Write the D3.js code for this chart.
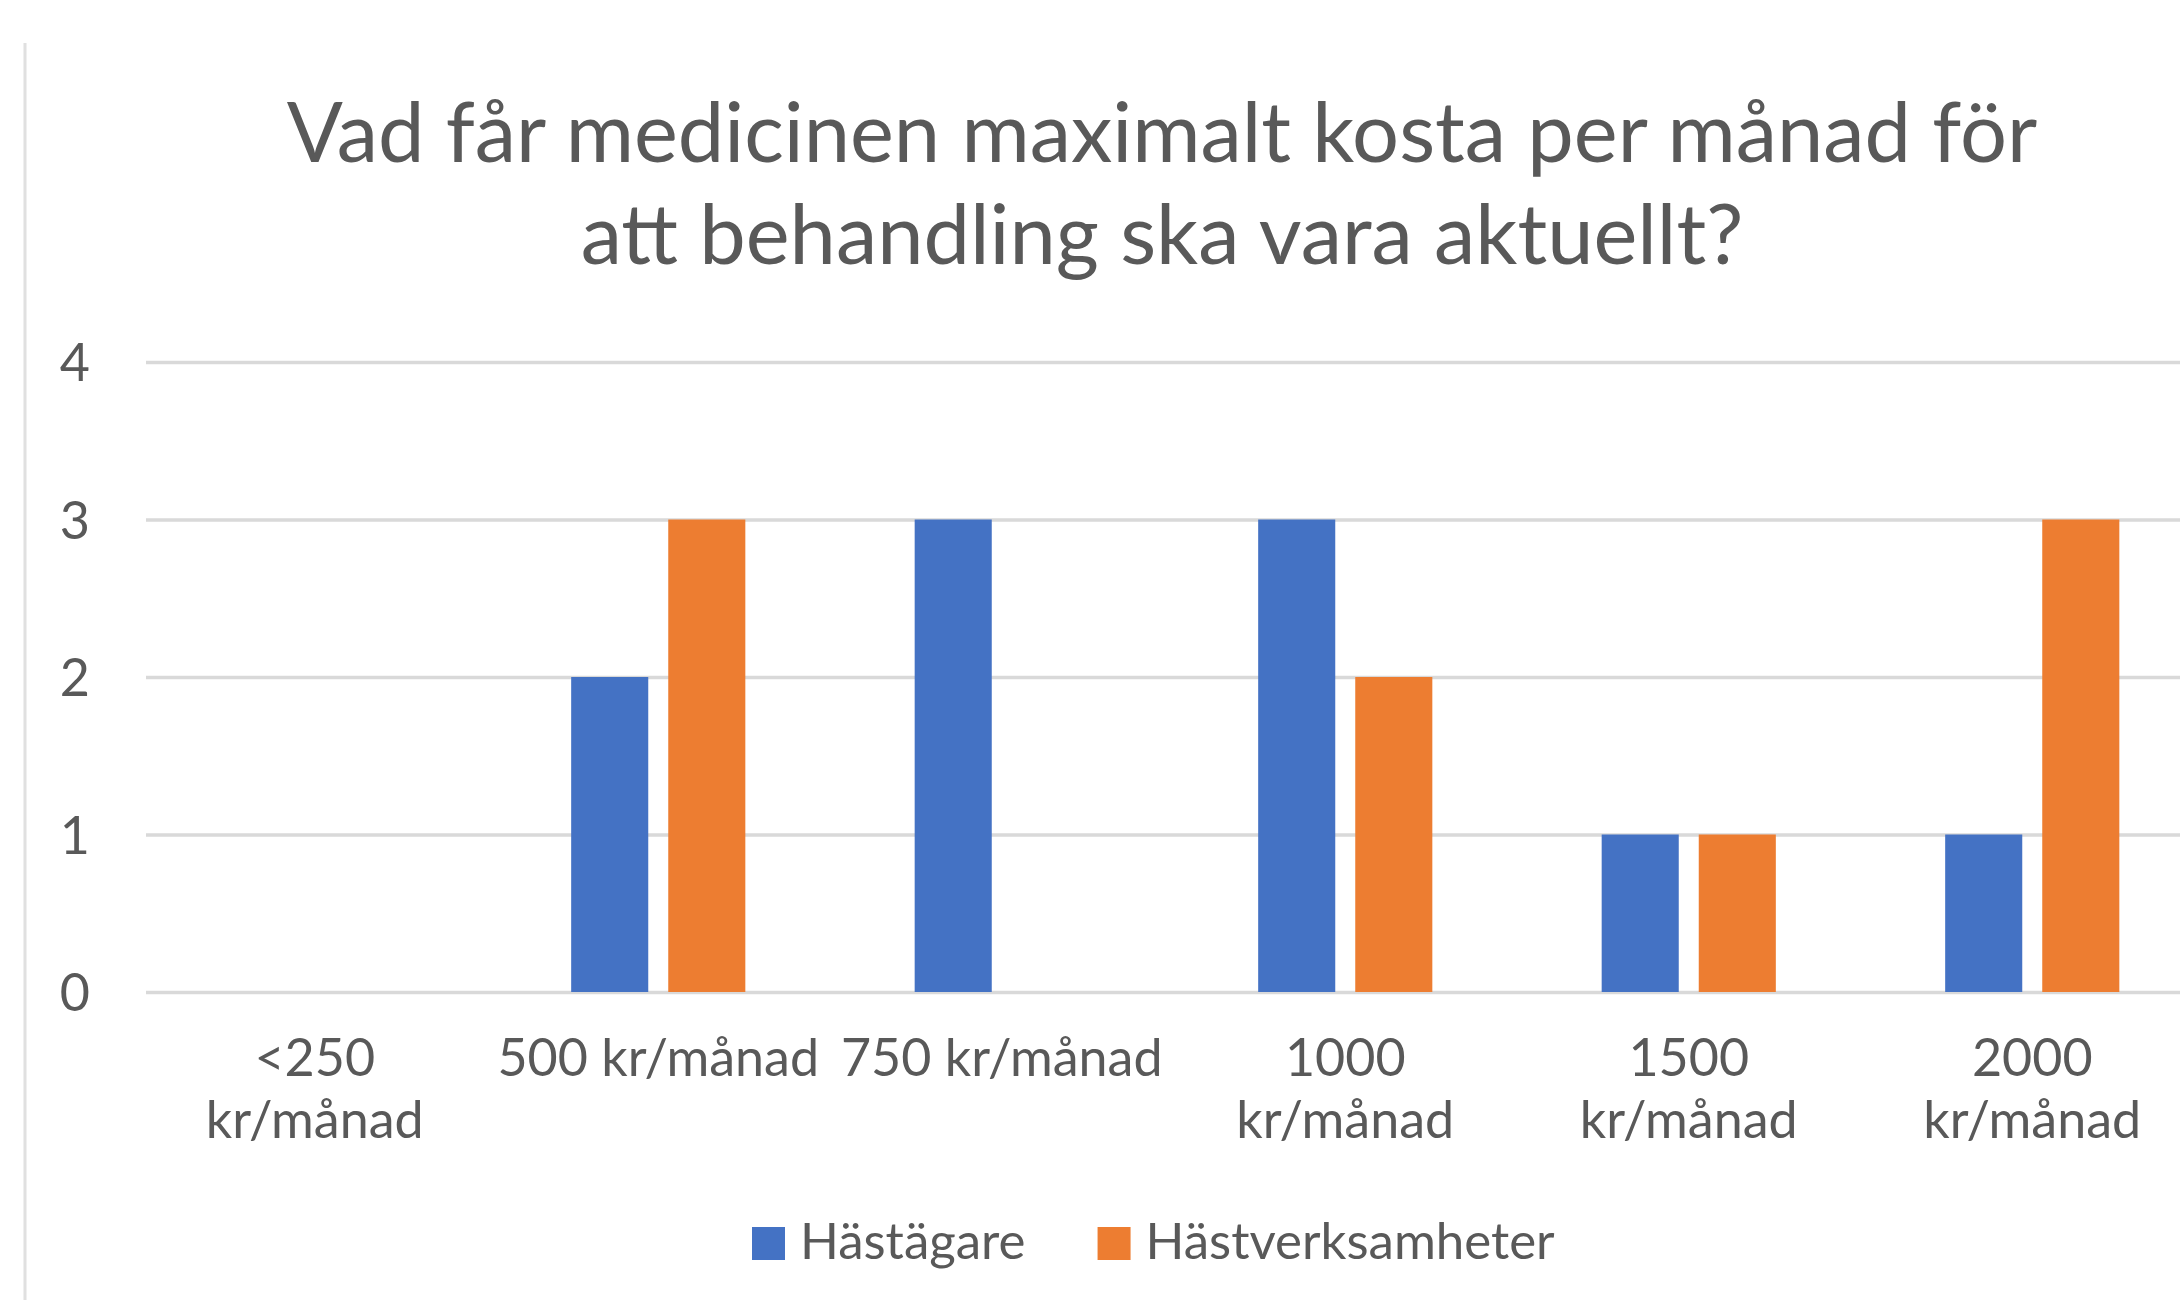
<!DOCTYPE html>
<html>
<head>
<meta charset="utf-8">
<script src="https://cdn.jsdelivr.net/npm/d3@7"></script>
<style>
  body { margin: 0; background: #fff; }
  svg { display: block; }
  text { font-family: Lato, "Open Sans", sans-serif; fill: #595959; }
</style>
</head>
<body>
<svg id="chart"></svg>
<script>
// chart data
var titleLines = ["Vad får medicinen maximalt kosta per månad för", "att behandling ska vara aktuellt?"];
var categories = ["<250 kr/månad", "500 kr/månad", "750 kr/månad", "1000 kr/månad", "1500 kr/månad", "2000 kr/månad"];
var tickLines = [["<250", "kr/månad"], ["500 kr/månad"], ["750 kr/månad"], ["1000", "kr/månad"], ["1500", "kr/månad"], ["2000", "kr/månad"]];
var seriesNames = ["Hästägare", "Hästverksamheter"];
var hastagare = [0, 2, 3, 3, 1, 1];
var hastverksamheter = [0, 3, 0, 2, 1, 3];
var yTicks = [0, 1, 2, 3, 4];
var colors = ["#4472C4", "#ED7D31"];

var W = 2180, H = 1300;
var svg = d3.select("#chart").attr("width", W).attr("height", H);

// left edge of the chart frame
svg.append("line")
    .attr("x1", 25).attr("x2", 25).attr("y1", 43).attr("y2", H)
    .attr("stroke", "#e0e0e0").attr("stroke-width", 3);

var plotLeft = 143, step = 343.5;
var x0 = d3.scaleBand()
    .domain(categories)
    .range([plotLeft, plotLeft + step * categories.length])
    .paddingInner(0.493)
    .paddingOuter(0.2465);

var x1 = d3.scaleBand()
    .domain(seriesNames)
    .range([0, x0.bandwidth()])
    .paddingInner(0.206);

var y = d3.scaleLinear().domain([0, 4]).range([992, 362]);

// title
svg.append("g").selectAll("text")
    .data(titleLines)
  .enter().append("text")
    .attr("x", 1162)
    .attr("y", function(d, i) { return 162 + i * 102; })
    .attr("text-anchor", "middle")
    .style("font-size", "83px")
    .text(function(d) { return d; });

// y axis with gridlines
var yAxis = svg.append("g")
    .attr("transform", "translate(146,0)")
    .call(d3.axisLeft(y).tickValues(yTicks).tickFormat(d3.format("d"))
        .tickSize(-(W + 40 - 146)).tickPadding(56));
yAxis.select(".domain").remove();
yAxis.selectAll(".tick line").attr("stroke", "#d9d9d9").attr("stroke-width", 3.5);
yAxis.selectAll(".tick text")
    .attr("dy", "0.36em")
    .style("font-size", "52px")
    .style("fill", "#595959");

// bars
var rows = categories.map(function(c, i) {
  return { cat: c, values: [hastagare[i], hastverksamheter[i]] };
});

var group = svg.append("g").selectAll("g")
    .data(rows)
  .enter().append("g")
    .attr("transform", function(d) { return "translate(" + x0(d.cat) + ",0)"; });

group.selectAll("rect")
    .data(function(d) { return d.values.map(function(v, k) { return { key: seriesNames[k], value: v, k: k }; }); })
  .enter().append("rect")
    .attr("x", function(d) { return x1(d.key); })
    .attr("width", x1.bandwidth())
    .attr("y", function(d) { return y(d.value); })
    .attr("height", function(d) { return y(0) - y(d.value); })
    .attr("fill", function(d) { return colors[d.k]; });

// x axis labels
var xAxis = svg.append("g")
    .attr("transform", "translate(0," + y(0) + ")")
    .call(d3.axisBottom(x0).tickSize(0).tickFormat(""));
xAxis.select(".domain").remove();
xAxis.selectAll(".tick").each(function(d, i) {
  var t = d3.select(this).append("text")
      .attr("text-anchor", "middle")
      .style("font-size", "52px")
      .style("fill", "#595959");
  tickLines[i].forEach(function(line, j) {
    t.append("tspan").attr("x", 0).attr("y", 84 + j * 62).text(line);
  });
});

// legend
var legend = svg.append("g");
var lx = 752;
seriesNames.forEach(function(name, k) {
  legend.append("rect")
      .attr("x", lx).attr("y", 1227)
      .attr("width", 33).attr("height", 33)
      .attr("fill", colors[k]);
  var t = legend.append("text")
      .attr("x", lx + 48).attr("y", 1259)
      .style("font-size", "51px")
      .text(name);
  lx = lx + 48 + t.node().getComputedTextLength() + 72;
});
</script>
</body>
</html>
